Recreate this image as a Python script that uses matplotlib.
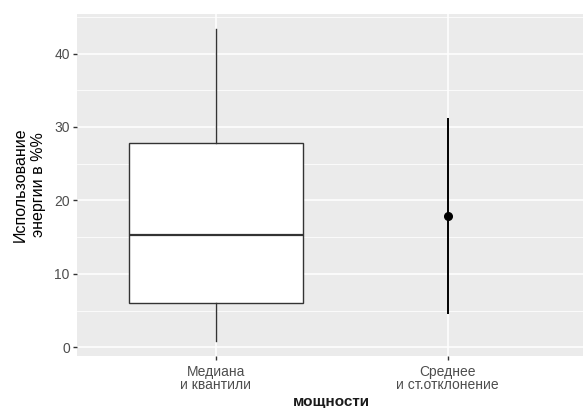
import matplotlib.pyplot as plt
from matplotlib.ticker import MultipleLocator

plt.rcParams['font.family'] = ['Liberation Sans', 'DejaVu Sans']

categories = ["Медиана\nи квантили", "Среднее\nи ст.отклонение"]
# boxplot stats: whisker low, q1, median, q3, whisker high
box_stats = [0.85, 6.0, 15.25, 27.8, 43.4]
# mean and +/- one sd
mean_val = 17.85
sd_low = 4.5
sd_high = 31.25

fig = plt.figure(figsize=(5.83, 4.08), dpi=100)
ax = fig.add_axes([0.1316, 0.128, 0.875, 0.838])
ax.set_facecolor('#ebebeb')

ax.bxp([{'whislo': box_stats[0], 'q1': box_stats[1], 'med': box_stats[2],
         'q3': box_stats[3], 'whishi': box_stats[4], 'fliers': []}],
       positions=[1], widths=0.75, showcaps=False, patch_artist=True,
       boxprops=dict(facecolor='white', edgecolor='#333333', linewidth=1.0),
       medianprops=dict(color='#333333', linewidth=1.6),
       whiskerprops=dict(color='#333333', linewidth=1.0), zorder=3)

ax.vlines(2, sd_low, sd_high, color='black', linewidth=1.4, zorder=3)
ax.plot([2], [mean_val], 'o', color='black', markersize=5.5, zorder=4)

ax.set_xlim(0.4, 2.6)
ax.set_ylim(-1.15, 45.4)
ax.set_xticks([1, 2])
ax.set_xticklabels(categories, linespacing=0.9)
ax.yaxis.set_major_locator(MultipleLocator(10))
ax.yaxis.set_minor_locator(MultipleLocator(5))

ax.grid(True, which='major', color='white', linewidth=1.1, zorder=0)
ax.grid(True, which='minor', axis='y', color='white', linewidth=0.55, zorder=0)
ax.set_axisbelow(True)
for s in ax.spines.values():
    s.set_visible(False)

ax.tick_params(axis='both', which='major', length=3, width=1, color='#333333',
               labelcolor='#4d4d4d', labelsize=10, pad=2)
ax.tick_params(axis='x', which='major', pad=4)
ax.tick_params(axis='y', which='minor', length=0)

ax.set_xlabel("мощности", fontsize=11, fontweight='bold', color='#1a1a1a', labelpad=2)
ax.set_ylabel("Использование\nэнергии в %%", fontsize=11.5, color='black',
              labelpad=6, linespacing=1.25)

fig.savefig('out.png', dpi=100)
